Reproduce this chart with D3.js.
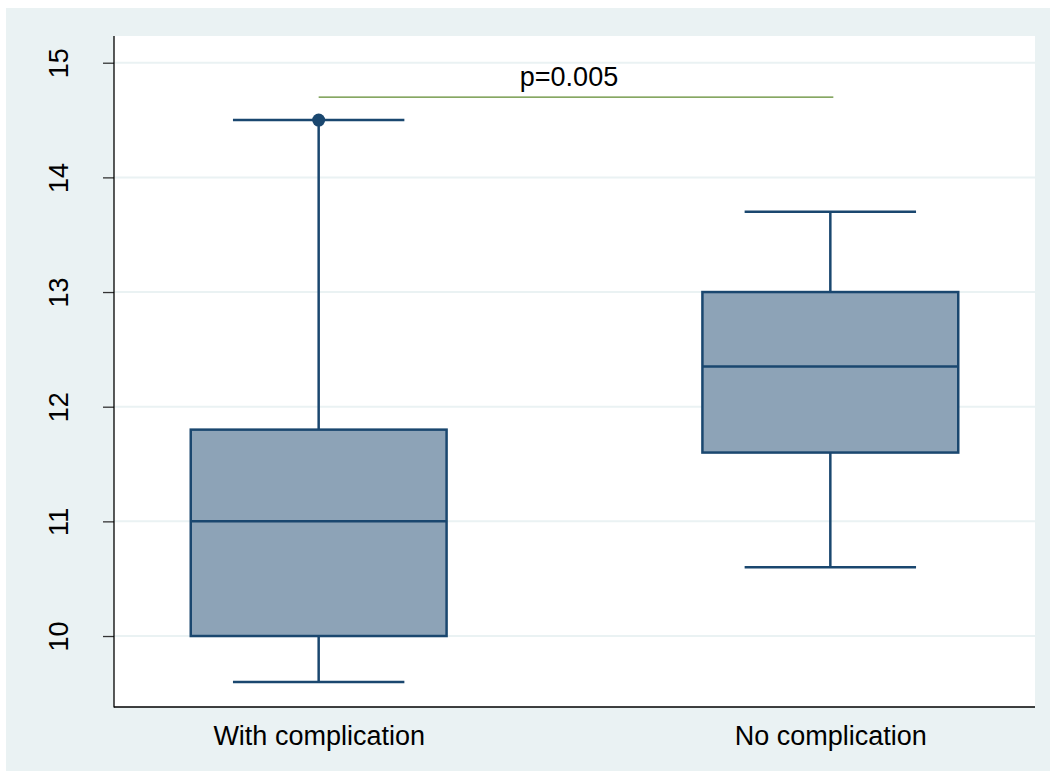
<!DOCTYPE html>
<html><head><meta charset="utf-8">
<script src="https://cdn.jsdelivr.net/npm/d3@7"></script>
<style>body{margin:0;background:#fff}svg{display:block}text{font-family:Arial,"Liberation Sans",sans-serif;fill:#000}</style>
</head><body>
<svg id="c" width="1050" height="771"></svg>
<script>
const categories = ["With complication", "No complication"];
const mins    = [9.6, 10.6];
const q1s     = [10.0, 11.6];
const medians = [11.0, 12.35];
const q3s     = [11.8, 13.0];
const maxs    = [14.5, 13.7];
const outliers = [[14.5], []];
const yTicks = [10, 11, 12, 13, 14, 15];
const pLabel = "p=0.005";
const pLevel = 14.7;

const svg = d3.select("#c");
const W = 1050, H = 771;
const plot = {l: 114, r: 1035, t: 36, b: 707};
const navy = "#1A476F", fill = "#8DA3B7", bg = "#EAF2F3";
const fs = "27px";

svg.append("rect").attr("x", 6).attr("y", 8).attr("width", W - 6).attr("height", H - 8).attr("fill", bg);
svg.append("rect").attr("x", plot.l).attr("y", plot.t).attr("width", plot.r - plot.l).attr("height", plot.b - plot.t).attr("fill", "#fff");

const y = d3.scaleLinear().domain([9.381, 15.233]).range([plot.b, plot.t]);
const x = d3.scalePoint().domain(categories).range([plot.l, plot.r]).padding(0.4);
const step = x.step();
const boxW = step * 0.5, capW = step * 0.335;

// grid
svg.append("g").selectAll("line").data(yTicks).join("line")
  .attr("x1", plot.l).attr("x2", plot.r)
  .attr("y1", d => y(d)).attr("y2", d => y(d))
  .attr("stroke", bg).attr("stroke-width", 2);

// y axis
const ya = svg.append("g").attr("transform", `translate(${plot.l},0)`)
  .call(d3.axisLeft(y).tickValues(yTicks).tickSize(11).tickPadding(0).tickFormat(d3.format("d")));
ya.select(".domain").remove();
ya.selectAll(".tick line").attr("stroke", "#333").attr("stroke-width", 1.3);
ya.selectAll(".tick text").attr("transform", "translate(-55,0) rotate(-90)")
  .attr("x", 0).attr("dy", "0.35em").attr("text-anchor", "middle").style("font-size", fs);

// x axis
const xa = svg.append("g").attr("transform", `translate(0,${plot.b})`)
  .call(d3.axisBottom(x).tickSize(0).tickPadding(0));
xa.select(".domain").remove();
xa.selectAll(".tick text").attr("y", 37.5).attr("dy", 0).style("font-size", fs);

// axis lines
svg.append("line").attr("x1", plot.l).attr("x2", plot.l).attr("y1", plot.t).attr("y2", plot.b + 0.5).attr("stroke", "#000").attr("stroke-width", 1.3);
svg.append("line").attr("x1", plot.l).attr("x2", plot.r).attr("y1", plot.b).attr("y2", plot.b).attr("stroke", "#000").attr("stroke-width", 1.3);

// boxes
const data = categories.map((c, i) => ({c, min: mins[i], q1: q1s[i], med: medians[i], q3: q3s[i], max: maxs[i], out: outliers[i]}));
const g = svg.append("g").selectAll("g").data(data).join("g");
g.append("line").attr("x1", d => x(d.c)).attr("x2", d => x(d.c)).attr("y1", d => y(d.max)).attr("y2", d => y(d.q3)).attr("stroke", navy).attr("stroke-width", 2.5);
g.append("line").attr("x1", d => x(d.c)).attr("x2", d => x(d.c)).attr("y1", d => y(d.q1)).attr("y2", d => y(d.min)).attr("stroke", navy).attr("stroke-width", 2.5);
g.append("line").attr("x1", d => x(d.c) - capW / 2).attr("x2", d => x(d.c) + capW / 2).attr("y1", d => y(d.max)).attr("y2", d => y(d.max)).attr("stroke", navy).attr("stroke-width", 2.5);
g.append("line").attr("x1", d => x(d.c) - capW / 2).attr("x2", d => x(d.c) + capW / 2).attr("y1", d => y(d.min)).attr("y2", d => y(d.min)).attr("stroke", navy).attr("stroke-width", 2.5);
g.append("rect").attr("x", d => x(d.c) - boxW / 2).attr("width", boxW)
  .attr("y", d => y(d.q3)).attr("height", d => y(d.q1) - y(d.q3))
  .attr("fill", fill).attr("stroke", navy).attr("stroke-width", 2.5);
g.append("line").attr("x1", d => x(d.c) - boxW / 2).attr("x2", d => x(d.c) + boxW / 2).attr("y1", d => y(d.med)).attr("y2", d => y(d.med)).attr("stroke", navy).attr("stroke-width", 2.5);
g.selectAll("circle").data(d => d.out.map(v => ({c: d.c, v}))).join("circle")
  .attr("cx", d => x(d.c)).attr("cy", d => y(d.v)).attr("r", 6.5).attr("fill", navy);

// p-value bracket
const x0 = x(categories[0]), x1 = x(categories[1]) + 3;
svg.append("line").attr("x1", x0).attr("x2", x1).attr("y1", y(pLevel)).attr("y2", y(pLevel)).attr("stroke", "#5E8A2E").attr("stroke-width", 1.2);
svg.append("text").attr("x", (x0 + x1) / 2 - 7).attr("y", y(pLevel) - 11.5).attr("text-anchor", "middle").style("font-size", fs).text(pLabel);
</script>
</body></html>
